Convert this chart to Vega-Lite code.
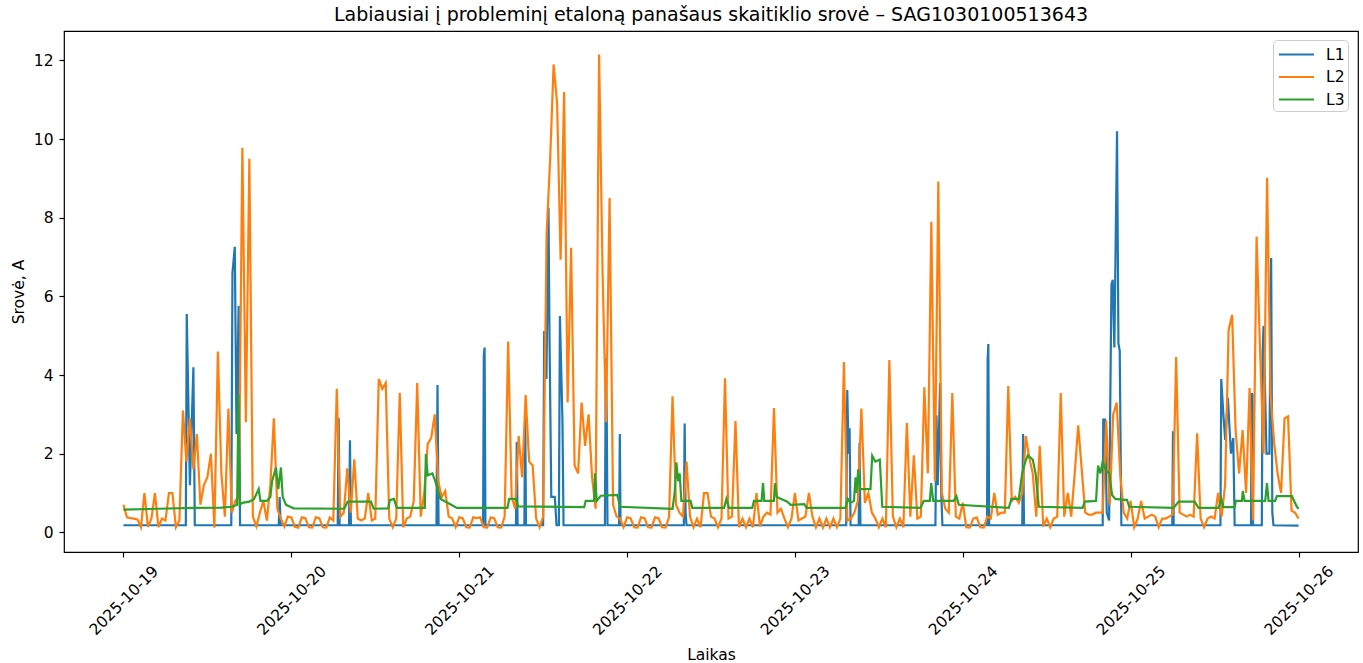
{
"$schema": "https://vega.github.io/schema/vega-lite/v6.json",
"width": 1294, "height": 521,
"autosize": {"type": "none"},
"padding": {"left": 64, "top": 31, "right": 5, "bottom": 111},
"background": "white",
"config": {
 "font": "DejaVu Sans",
 "view": {"stroke": "#000000", "strokeWidth": 1.2},
 "axis": {"grid": false, "domain": false, "tickColor": "#000000", "labelColor": "#000000", "titleColor": "#000000", "labelFont": "DejaVu Sans", "titleFont": "DejaVu Sans", "labelFontSize": 15.5, "titleFontSize": 15.5, "titleFontWeight": "normal", "tickSize": 5, "tickWidth": 1.2}
},
"title": {"text": "Labiausiai į probleminį etaloną panašaus skaitiklio srovė – SAG1030100513643", "font": "DejaVu Sans", "fontSize": 19, "fontWeight": "normal", "color": "#000000", "anchor": "middle", "offset": 6},
"data": {"values": [
{"s":"L1","t":"2025-10-19T00:00","v":0.18},{"s":"L1","t":"2025-10-19T08:55","v":0.18},{"s":"L1","t":"2025-10-19T09:03","v":5.55},{"s":"L1","t":"2025-10-19T09:30","v":1.2},{"s":"L1","t":"2025-10-19T10:00","v":4.2},{"s":"L1","t":"2025-10-19T10:12","v":0.18},{"s":"L1","t":"2025-10-19T15:25","v":0.18},{"s":"L1","t":"2025-10-19T15:35","v":6.6},{"s":"L1","t":"2025-10-19T15:55","v":7.26},{"s":"L1","t":"2025-10-19T16:10","v":2.5},{"s":"L1","t":"2025-10-19T16:28","v":5.76},{"s":"L1","t":"2025-10-19T16:40","v":0.18},{"s":"L1","t":"2025-10-19T22:12","v":0.18},{"s":"L1","t":"2025-10-19T22:20","v":0.9},{"s":"L1","t":"2025-10-19T22:28","v":0.18},
{"s":"L1","t":"2025-10-20T06:38","v":0.18},{"s":"L1","t":"2025-10-20T06:46","v":2.9},{"s":"L1","t":"2025-10-20T06:54","v":0.18},{"s":"L1","t":"2025-10-20T08:15","v":0.18},{"s":"L1","t":"2025-10-20T08:23","v":2.34},{"s":"L1","t":"2025-10-20T08:31","v":0.18},{"s":"L1","t":"2025-10-20T20:45","v":0.18},{"s":"L1","t":"2025-10-20T20:54","v":3.75},{"s":"L1","t":"2025-10-20T21:03","v":0.18},
{"s":"L1","t":"2025-10-21T03:25","v":0.18},{"s":"L1","t":"2025-10-21T03:31","v":4.5},{"s":"L1","t":"2025-10-21T03:38","v":4.7},{"s":"L1","t":"2025-10-21T03:45","v":0.18},{"s":"L1","t":"2025-10-21T08:07","v":0.18},{"s":"L1","t":"2025-10-21T08:14","v":2.3},{"s":"L1","t":"2025-10-21T08:21","v":0.18},{"s":"L1","t":"2025-10-21T09:19","v":0.18},{"s":"L1","t":"2025-10-21T09:26","v":3.13},{"s":"L1","t":"2025-10-21T09:33","v":0.18},{"s":"L1","t":"2025-10-21T12:00","v":0.18},{"s":"L1","t":"2025-10-21T12:09","v":5.12},{"s":"L1","t":"2025-10-21T12:28","v":3.9},{"s":"L1","t":"2025-10-21T12:46","v":8.25},{"s":"L1","t":"2025-10-21T12:55","v":4.9},{"s":"L1","t":"2025-10-21T13:10","v":0.9},{"s":"L1","t":"2025-10-21T13:40","v":0.9},{"s":"L1","t":"2025-10-21T13:55","v":0.18},{"s":"L1","t":"2025-10-21T14:15","v":0.18},{"s":"L1","t":"2025-10-21T14:24","v":5.5},{"s":"L1","t":"2025-10-21T14:46","v":2.8},{"s":"L1","t":"2025-10-21T14:55","v":0.18},{"s":"L1","t":"2025-10-21T20:50","v":0.18},{"s":"L1","t":"2025-10-21T20:58","v":4.43},{"s":"L1","t":"2025-10-21T21:06","v":2.8},{"s":"L1","t":"2025-10-21T21:12","v":0.18},{"s":"L1","t":"2025-10-21T22:52","v":0.18},{"s":"L1","t":"2025-10-21T22:58","v":2.5},{"s":"L1","t":"2025-10-21T23:04","v":0.18},
{"s":"L1","t":"2025-10-22T08:07","v":0.18},{"s":"L1","t":"2025-10-22T08:14","v":2.77},{"s":"L1","t":"2025-10-22T08:22","v":0.5},{"s":"L1","t":"2025-10-22T08:30","v":0.18},
{"s":"L1","t":"2025-10-23T07:20","v":0.18},{"s":"L1","t":"2025-10-23T07:29","v":3.62},{"s":"L1","t":"2025-10-23T07:40","v":2.0},{"s":"L1","t":"2025-10-23T07:49","v":2.65},{"s":"L1","t":"2025-10-23T07:57","v":0.18},{"s":"L1","t":"2025-10-23T09:07","v":0.18},{"s":"L1","t":"2025-10-23T09:14","v":2.27},{"s":"L1","t":"2025-10-23T09:22","v":0.18},{"s":"L1","t":"2025-10-23T20:05","v":0.18},{"s":"L1","t":"2025-10-23T20:14","v":2.98},{"s":"L1","t":"2025-10-23T20:25","v":1.2},{"s":"L1","t":"2025-10-23T20:45","v":3.8},{"s":"L1","t":"2025-10-23T20:55","v":1.0},{"s":"L1","t":"2025-10-23T21:05","v":0.18},
{"s":"L1","t":"2025-10-24T03:28","v":0.18},{"s":"L1","t":"2025-10-24T03:33","v":4.4},{"s":"L1","t":"2025-10-24T03:39","v":4.79},{"s":"L1","t":"2025-10-24T03:46","v":0.18},{"s":"L1","t":"2025-10-24T08:30","v":0.18},{"s":"L1","t":"2025-10-24T08:37","v":2.5},{"s":"L1","t":"2025-10-24T08:45","v":0.18},{"s":"L1","t":"2025-10-24T20:00","v":0.18},{"s":"L1","t":"2025-10-24T20:05","v":2.87},{"s":"L1","t":"2025-10-24T20:20","v":2.87},{"s":"L1","t":"2025-10-24T20:35","v":0.5},{"s":"L1","t":"2025-10-24T20:55","v":0.3},{"s":"L1","t":"2025-10-24T21:15","v":6.3},{"s":"L1","t":"2025-10-24T21:26","v":6.42},{"s":"L1","t":"2025-10-24T21:40","v":4.7},{"s":"L1","t":"2025-10-24T22:03","v":10.2},{"s":"L1","t":"2025-10-24T22:15","v":4.8},{"s":"L1","t":"2025-10-24T22:26","v":4.62},{"s":"L1","t":"2025-10-24T22:40","v":0.18},
{"s":"L1","t":"2025-10-25T05:57","v":0.18},{"s":"L1","t":"2025-10-25T06:03","v":2.57},{"s":"L1","t":"2025-10-25T06:09","v":0.18},{"s":"L1","t":"2025-10-25T12:50","v":0.18},{"s":"L1","t":"2025-10-25T12:57","v":3.9},{"s":"L1","t":"2025-10-25T13:15","v":3.0},{"s":"L1","t":"2025-10-25T13:31","v":2.35},{"s":"L1","t":"2025-10-25T13:54","v":3.42},{"s":"L1","t":"2025-10-25T14:20","v":2.0},{"s":"L1","t":"2025-10-25T14:40","v":2.4},{"s":"L1","t":"2025-10-25T14:52","v":0.18},{"s":"L1","t":"2025-10-25T17:12","v":0.18},{"s":"L1","t":"2025-10-25T17:18","v":3.54},{"s":"L1","t":"2025-10-25T17:25","v":3.5},{"s":"L1","t":"2025-10-25T17:30","v":0.18},{"s":"L1","t":"2025-10-25T18:45","v":0.18},{"s":"L1","t":"2025-10-25T18:52","v":4.6},{"s":"L1","t":"2025-10-25T19:00","v":5.25},{"s":"L1","t":"2025-10-25T19:25","v":2.0},{"s":"L1","t":"2025-10-25T19:50","v":2.0},{"s":"L1","t":"2025-10-25T20:05","v":6.98},{"s":"L1","t":"2025-10-25T20:15","v":0.5},{"s":"L1","t":"2025-10-25T20:25","v":0.18},{"s":"L1","t":"2025-10-26T00:00","v":0.17},

{"s":"L2","t":"2025-10-19T00:00","v":0.7},{"s":"L2","t":"2025-10-19T00:30","v":0.38},{"s":"L2","t":"2025-10-19T01:00","v":0.36},{"s":"L2","t":"2025-10-19T01:30","v":0.35},{"s":"L2","t":"2025-10-19T02:00","v":0.33},{"s":"L2","t":"2025-10-19T02:30","v":0.13},{"s":"L2","t":"2025-10-19T03:00","v":1.0},{"s":"L2","t":"2025-10-19T03:30","v":0.14},{"s":"L2","t":"2025-10-19T04:00","v":0.35},{"s":"L2","t":"2025-10-19T04:30","v":1.0},{"s":"L2","t":"2025-10-19T05:00","v":0.13},{"s":"L2","t":"2025-10-19T05:30","v":0.35},{"s":"L2","t":"2025-10-19T06:00","v":0.3},{"s":"L2","t":"2025-10-19T06:30","v":1.0},{"s":"L2","t":"2025-10-19T07:00","v":1.0},{"s":"L2","t":"2025-10-19T07:30","v":0.13},{"s":"L2","t":"2025-10-19T08:00","v":0.3},{"s":"L2","t":"2025-10-19T08:30","v":3.1},{"s":"L2","t":"2025-10-19T09:00","v":1.8},{"s":"L2","t":"2025-10-19T09:30","v":2.9},{"s":"L2","t":"2025-10-19T10:00","v":1.6},{"s":"L2","t":"2025-10-19T10:30","v":2.5},{"s":"L2","t":"2025-10-19T11:00","v":0.7},{"s":"L2","t":"2025-10-19T11:30","v":1.2},{"s":"L2","t":"2025-10-19T12:00","v":1.4},{"s":"L2","t":"2025-10-19T12:30","v":2.0},{"s":"L2","t":"2025-10-19T13:00","v":0.12},{"s":"L2","t":"2025-10-19T13:30","v":4.6},{"s":"L2","t":"2025-10-19T14:00","v":1.5},{"s":"L2","t":"2025-10-19T14:30","v":0.4},{"s":"L2","t":"2025-10-19T15:00","v":3.15},{"s":"L2","t":"2025-10-19T15:30","v":0.5},{"s":"L2","t":"2025-10-19T16:00","v":0.8},{"s":"L2","t":"2025-10-19T16:30","v":0.9},{"s":"L2","t":"2025-10-19T17:00","v":9.78},{"s":"L2","t":"2025-10-19T17:30","v":2.8},{"s":"L2","t":"2025-10-19T18:00","v":9.5},{"s":"L2","t":"2025-10-19T18:30","v":0.4},{"s":"L2","t":"2025-10-19T19:00","v":0.15},{"s":"L2","t":"2025-10-19T19:30","v":0.5},{"s":"L2","t":"2025-10-19T20:00","v":0.8},{"s":"L2","t":"2025-10-19T20:30","v":0.3},{"s":"L2","t":"2025-10-19T21:00","v":1.2},{"s":"L2","t":"2025-10-19T21:30","v":2.9},{"s":"L2","t":"2025-10-19T22:00","v":0.6},{"s":"L2","t":"2025-10-19T22:30","v":0.35},{"s":"L2","t":"2025-10-19T23:00","v":0.15},{"s":"L2","t":"2025-10-19T23:30","v":0.4},
{"s":"L2","t":"2025-10-20T00:00","v":0.38},{"s":"L2","t":"2025-10-20T00:30","v":0.14},{"s":"L2","t":"2025-10-20T01:00","v":0.12},{"s":"L2","t":"2025-10-20T01:30","v":0.38},{"s":"L2","t":"2025-10-20T02:00","v":0.36},{"s":"L2","t":"2025-10-20T02:30","v":0.13},{"s":"L2","t":"2025-10-20T03:00","v":0.12},{"s":"L2","t":"2025-10-20T03:30","v":0.38},{"s":"L2","t":"2025-10-20T04:00","v":0.36},{"s":"L2","t":"2025-10-20T04:30","v":0.13},{"s":"L2","t":"2025-10-20T05:00","v":0.12},{"s":"L2","t":"2025-10-20T05:30","v":0.38},{"s":"L2","t":"2025-10-20T06:00","v":0.3},{"s":"L2","t":"2025-10-20T06:30","v":3.65},{"s":"L2","t":"2025-10-20T07:00","v":0.4},{"s":"L2","t":"2025-10-20T07:30","v":0.5},{"s":"L2","t":"2025-10-20T08:00","v":1.63},{"s":"L2","t":"2025-10-20T08:30","v":0.5},{"s":"L2","t":"2025-10-20T09:00","v":1.86},{"s":"L2","t":"2025-10-20T09:30","v":0.35},{"s":"L2","t":"2025-10-20T10:00","v":0.3},{"s":"L2","t":"2025-10-20T10:30","v":0.35},{"s":"L2","t":"2025-10-20T11:00","v":1.0},{"s":"L2","t":"2025-10-20T11:30","v":0.3},{"s":"L2","t":"2025-10-20T12:00","v":0.35},{"s":"L2","t":"2025-10-20T12:30","v":3.9},{"s":"L2","t":"2025-10-20T13:00","v":3.65},{"s":"L2","t":"2025-10-20T13:30","v":3.8},{"s":"L2","t":"2025-10-20T14:00","v":0.35},{"s":"L2","t":"2025-10-20T14:30","v":0.13},{"s":"L2","t":"2025-10-20T15:00","v":0.35},{"s":"L2","t":"2025-10-20T15:30","v":3.55},{"s":"L2","t":"2025-10-20T16:00","v":0.13},{"s":"L2","t":"2025-10-20T16:30","v":0.35},{"s":"L2","t":"2025-10-20T17:00","v":0.4},{"s":"L2","t":"2025-10-20T17:30","v":0.8},{"s":"L2","t":"2025-10-20T18:00","v":3.8},{"s":"L2","t":"2025-10-20T18:30","v":0.4},{"s":"L2","t":"2025-10-20T19:00","v":1.0},{"s":"L2","t":"2025-10-20T19:30","v":2.25},{"s":"L2","t":"2025-10-20T20:00","v":2.4},{"s":"L2","t":"2025-10-20T20:30","v":3.0},{"s":"L2","t":"2025-10-20T21:00","v":1.3},{"s":"L2","t":"2025-10-20T21:30","v":0.9},{"s":"L2","t":"2025-10-20T22:00","v":1.05},{"s":"L2","t":"2025-10-20T22:30","v":0.4},{"s":"L2","t":"2025-10-20T23:00","v":0.35},{"s":"L2","t":"2025-10-20T23:30","v":0.13},
{"s":"L2","t":"2025-10-21T00:00","v":0.38},{"s":"L2","t":"2025-10-21T00:30","v":0.36},{"s":"L2","t":"2025-10-21T01:00","v":0.13},{"s":"L2","t":"2025-10-21T01:30","v":0.12},{"s":"L2","t":"2025-10-21T02:00","v":0.38},{"s":"L2","t":"2025-10-21T02:30","v":0.36},{"s":"L2","t":"2025-10-21T03:00","v":0.38},{"s":"L2","t":"2025-10-21T03:30","v":0.13},{"s":"L2","t":"2025-10-21T04:00","v":0.12},{"s":"L2","t":"2025-10-21T04:30","v":0.38},{"s":"L2","t":"2025-10-21T05:00","v":0.36},{"s":"L2","t":"2025-10-21T05:30","v":0.13},{"s":"L2","t":"2025-10-21T06:00","v":0.12},{"s":"L2","t":"2025-10-21T06:30","v":0.4},{"s":"L2","t":"2025-10-21T07:00","v":4.85},{"s":"L2","t":"2025-10-21T07:30","v":0.9},{"s":"L2","t":"2025-10-21T08:00","v":0.6},{"s":"L2","t":"2025-10-21T08:30","v":2.45},{"s":"L2","t":"2025-10-21T09:00","v":1.4},{"s":"L2","t":"2025-10-21T09:30","v":3.49},{"s":"L2","t":"2025-10-21T10:00","v":1.8},{"s":"L2","t":"2025-10-21T10:30","v":1.7},{"s":"L2","t":"2025-10-21T11:00","v":0.35},{"s":"L2","t":"2025-10-21T11:30","v":0.13},{"s":"L2","t":"2025-10-21T12:00","v":0.4},{"s":"L2","t":"2025-10-21T12:30","v":7.6},{"s":"L2","t":"2025-10-21T13:00","v":9.48},{"s":"L2","t":"2025-10-21T13:30","v":11.9},{"s":"L2","t":"2025-10-21T14:00","v":10.9},{"s":"L2","t":"2025-10-21T14:30","v":6.93},{"s":"L2","t":"2025-10-21T15:00","v":11.2},{"s":"L2","t":"2025-10-21T15:30","v":3.3},{"s":"L2","t":"2025-10-21T16:00","v":7.24},{"s":"L2","t":"2025-10-21T16:30","v":1.7},{"s":"L2","t":"2025-10-21T17:00","v":1.5},{"s":"L2","t":"2025-10-21T17:30","v":3.3},{"s":"L2","t":"2025-10-21T18:00","v":2.2},{"s":"L2","t":"2025-10-21T18:30","v":3.0},{"s":"L2","t":"2025-10-21T19:00","v":1.4},{"s":"L2","t":"2025-10-21T19:30","v":0.6},{"s":"L2","t":"2025-10-21T20:00","v":12.15},{"s":"L2","t":"2025-10-21T20:30","v":6.6},{"s":"L2","t":"2025-10-21T21:00","v":2.8},{"s":"L2","t":"2025-10-21T21:30","v":8.5},{"s":"L2","t":"2025-10-21T22:00","v":0.7},{"s":"L2","t":"2025-10-21T22:30","v":0.4},{"s":"L2","t":"2025-10-21T23:00","v":0.35},{"s":"L2","t":"2025-10-21T23:30","v":0.13},
{"s":"L2","t":"2025-10-22T00:00","v":0.38},{"s":"L2","t":"2025-10-22T00:30","v":0.36},{"s":"L2","t":"2025-10-22T01:00","v":0.13},{"s":"L2","t":"2025-10-22T01:30","v":0.12},{"s":"L2","t":"2025-10-22T02:00","v":0.38},{"s":"L2","t":"2025-10-22T02:30","v":0.36},{"s":"L2","t":"2025-10-22T03:00","v":0.13},{"s":"L2","t":"2025-10-22T03:30","v":0.12},{"s":"L2","t":"2025-10-22T04:00","v":0.38},{"s":"L2","t":"2025-10-22T04:30","v":0.36},{"s":"L2","t":"2025-10-22T05:00","v":0.13},{"s":"L2","t":"2025-10-22T05:30","v":0.12},{"s":"L2","t":"2025-10-22T06:00","v":0.38},{"s":"L2","t":"2025-10-22T06:30","v":3.46},{"s":"L2","t":"2025-10-22T07:00","v":0.7},{"s":"L2","t":"2025-10-22T07:30","v":0.5},{"s":"L2","t":"2025-10-22T08:00","v":0.4},{"s":"L2","t":"2025-10-22T08:30","v":1.8},{"s":"L2","t":"2025-10-22T09:00","v":0.4},{"s":"L2","t":"2025-10-22T09:30","v":0.13},{"s":"L2","t":"2025-10-22T10:00","v":0.35},{"s":"L2","t":"2025-10-22T10:30","v":0.13},{"s":"L2","t":"2025-10-22T11:00","v":1.0},{"s":"L2","t":"2025-10-22T11:30","v":1.0},{"s":"L2","t":"2025-10-22T12:00","v":0.4},{"s":"L2","t":"2025-10-22T12:30","v":0.35},{"s":"L2","t":"2025-10-22T13:00","v":0.13},{"s":"L2","t":"2025-10-22T13:30","v":0.35},{"s":"L2","t":"2025-10-22T14:00","v":3.92},{"s":"L2","t":"2025-10-22T14:30","v":0.35},{"s":"L2","t":"2025-10-22T15:00","v":0.4},{"s":"L2","t":"2025-10-22T15:30","v":2.83},{"s":"L2","t":"2025-10-22T16:00","v":0.13},{"s":"L2","t":"2025-10-22T16:30","v":0.35},{"s":"L2","t":"2025-10-22T17:00","v":0.13},{"s":"L2","t":"2025-10-22T17:30","v":0.35},{"s":"L2","t":"2025-10-22T18:00","v":0.13},{"s":"L2","t":"2025-10-22T18:30","v":1.0},{"s":"L2","t":"2025-10-22T19:00","v":0.15},{"s":"L2","t":"2025-10-22T19:30","v":0.4},{"s":"L2","t":"2025-10-22T20:00","v":0.5},{"s":"L2","t":"2025-10-22T20:30","v":0.45},{"s":"L2","t":"2025-10-22T21:00","v":3.16},{"s":"L2","t":"2025-10-22T21:30","v":0.5},{"s":"L2","t":"2025-10-22T22:00","v":0.6},{"s":"L2","t":"2025-10-22T22:30","v":0.35},{"s":"L2","t":"2025-10-22T23:00","v":0.13},{"s":"L2","t":"2025-10-22T23:30","v":0.35},
{"s":"L2","t":"2025-10-23T00:00","v":1.0},{"s":"L2","t":"2025-10-23T00:30","v":0.3},{"s":"L2","t":"2025-10-23T01:00","v":0.35},{"s":"L2","t":"2025-10-23T01:30","v":0.4},{"s":"L2","t":"2025-10-23T02:00","v":1.0},{"s":"L2","t":"2025-10-23T02:30","v":0.4},{"s":"L2","t":"2025-10-23T03:00","v":0.13},{"s":"L2","t":"2025-10-23T03:30","v":0.35},{"s":"L2","t":"2025-10-23T04:00","v":0.12},{"s":"L2","t":"2025-10-23T04:30","v":0.35},{"s":"L2","t":"2025-10-23T05:00","v":0.13},{"s":"L2","t":"2025-10-23T05:30","v":0.35},{"s":"L2","t":"2025-10-23T06:00","v":0.13},{"s":"L2","t":"2025-10-23T06:30","v":0.35},{"s":"L2","t":"2025-10-23T07:00","v":4.33},{"s":"L2","t":"2025-10-23T07:30","v":0.3},{"s":"L2","t":"2025-10-23T08:00","v":0.35},{"s":"L2","t":"2025-10-23T08:30","v":0.5},{"s":"L2","t":"2025-10-23T09:00","v":0.8},{"s":"L2","t":"2025-10-23T09:30","v":3.15},{"s":"L2","t":"2025-10-23T10:00","v":0.75},{"s":"L2","t":"2025-10-23T10:30","v":1.0},{"s":"L2","t":"2025-10-23T11:00","v":0.5},{"s":"L2","t":"2025-10-23T11:30","v":0.35},{"s":"L2","t":"2025-10-23T12:00","v":0.13},{"s":"L2","t":"2025-10-23T12:30","v":0.35},{"s":"L2","t":"2025-10-23T13:00","v":0.13},{"s":"L2","t":"2025-10-23T13:30","v":4.38},{"s":"L2","t":"2025-10-23T14:00","v":0.4},{"s":"L2","t":"2025-10-23T14:30","v":0.13},{"s":"L2","t":"2025-10-23T15:00","v":0.35},{"s":"L2","t":"2025-10-23T15:30","v":0.13},{"s":"L2","t":"2025-10-23T16:00","v":2.78},{"s":"L2","t":"2025-10-23T16:30","v":0.4},{"s":"L2","t":"2025-10-23T17:00","v":1.96},{"s":"L2","t":"2025-10-23T17:30","v":0.35},{"s":"L2","t":"2025-10-23T18:00","v":0.4},{"s":"L2","t":"2025-10-23T18:30","v":3.69},{"s":"L2","t":"2025-10-23T19:00","v":1.5},{"s":"L2","t":"2025-10-23T19:30","v":7.9},{"s":"L2","t":"2025-10-23T20:00","v":1.3},{"s":"L2","t":"2025-10-23T20:30","v":8.92},{"s":"L2","t":"2025-10-23T21:00","v":1.0},{"s":"L2","t":"2025-10-23T21:30","v":0.6},{"s":"L2","t":"2025-10-23T22:00","v":0.5},{"s":"L2","t":"2025-10-23T22:30","v":3.54},{"s":"L2","t":"2025-10-23T23:00","v":0.4},{"s":"L2","t":"2025-10-23T23:30","v":0.35},
{"s":"L2","t":"2025-10-24T00:00","v":0.75},{"s":"L2","t":"2025-10-24T00:30","v":0.13},{"s":"L2","t":"2025-10-24T01:00","v":0.12},{"s":"L2","t":"2025-10-24T01:30","v":0.35},{"s":"L2","t":"2025-10-24T02:00","v":0.38},{"s":"L2","t":"2025-10-24T02:30","v":0.13},{"s":"L2","t":"2025-10-24T03:00","v":0.12},{"s":"L2","t":"2025-10-24T03:30","v":0.4},{"s":"L2","t":"2025-10-24T04:00","v":0.35},{"s":"L2","t":"2025-10-24T04:30","v":1.0},{"s":"L2","t":"2025-10-24T05:00","v":0.45},{"s":"L2","t":"2025-10-24T05:30","v":0.5},{"s":"L2","t":"2025-10-24T06:00","v":0.5},{"s":"L2","t":"2025-10-24T06:30","v":3.72},{"s":"L2","t":"2025-10-24T07:00","v":0.8},{"s":"L2","t":"2025-10-24T07:30","v":0.9},{"s":"L2","t":"2025-10-24T08:00","v":0.75},{"s":"L2","t":"2025-10-24T08:30","v":1.0},{"s":"L2","t":"2025-10-24T09:00","v":2.45},{"s":"L2","t":"2025-10-24T09:30","v":1.9},{"s":"L2","t":"2025-10-24T10:00","v":1.5},{"s":"L2","t":"2025-10-24T10:30","v":0.4},{"s":"L2","t":"2025-10-24T11:00","v":2.2},{"s":"L2","t":"2025-10-24T11:30","v":0.15},{"s":"L2","t":"2025-10-24T12:00","v":0.35},{"s":"L2","t":"2025-10-24T12:30","v":0.13},{"s":"L2","t":"2025-10-24T13:00","v":0.35},{"s":"L2","t":"2025-10-24T13:30","v":0.4},{"s":"L2","t":"2025-10-24T14:00","v":3.54},{"s":"L2","t":"2025-10-24T14:30","v":0.4},{"s":"L2","t":"2025-10-24T15:00","v":1.0},{"s":"L2","t":"2025-10-24T15:30","v":0.4},{"s":"L2","t":"2025-10-24T16:00","v":1.5},{"s":"L2","t":"2025-10-24T16:30","v":2.72},{"s":"L2","t":"2025-10-24T17:00","v":1.6},{"s":"L2","t":"2025-10-24T17:30","v":0.5},{"s":"L2","t":"2025-10-24T18:00","v":0.45},{"s":"L2","t":"2025-10-24T18:30","v":0.45},{"s":"L2","t":"2025-10-24T19:00","v":0.5},{"s":"L2","t":"2025-10-24T19:30","v":0.5},{"s":"L2","t":"2025-10-24T20:00","v":0.5},{"s":"L2","t":"2025-10-24T20:30","v":2.85},{"s":"L2","t":"2025-10-24T21:00","v":0.7},{"s":"L2","t":"2025-10-24T21:30","v":3.0},{"s":"L2","t":"2025-10-24T22:00","v":3.3},{"s":"L2","t":"2025-10-24T22:30","v":1.5},{"s":"L2","t":"2025-10-24T23:00","v":0.5},{"s":"L2","t":"2025-10-24T23:30","v":0.35},
{"s":"L2","t":"2025-10-25T00:00","v":0.8},{"s":"L2","t":"2025-10-25T00:30","v":0.13},{"s":"L2","t":"2025-10-25T01:00","v":0.35},{"s":"L2","t":"2025-10-25T01:30","v":0.8},{"s":"L2","t":"2025-10-25T02:00","v":0.35},{"s":"L2","t":"2025-10-25T02:30","v":0.4},{"s":"L2","t":"2025-10-25T03:00","v":0.45},{"s":"L2","t":"2025-10-25T03:30","v":0.4},{"s":"L2","t":"2025-10-25T04:00","v":0.13},{"s":"L2","t":"2025-10-25T04:30","v":0.35},{"s":"L2","t":"2025-10-25T05:00","v":0.35},{"s":"L2","t":"2025-10-25T05:30","v":0.4},{"s":"L2","t":"2025-10-25T06:00","v":0.45},{"s":"L2","t":"2025-10-25T06:30","v":4.46},{"s":"L2","t":"2025-10-25T07:00","v":0.5},{"s":"L2","t":"2025-10-25T07:30","v":0.45},{"s":"L2","t":"2025-10-25T08:00","v":0.4},{"s":"L2","t":"2025-10-25T08:30","v":0.45},{"s":"L2","t":"2025-10-25T09:00","v":0.4},{"s":"L2","t":"2025-10-25T09:30","v":2.52},{"s":"L2","t":"2025-10-25T10:00","v":0.35},{"s":"L2","t":"2025-10-25T10:30","v":0.13},{"s":"L2","t":"2025-10-25T11:00","v":0.35},{"s":"L2","t":"2025-10-25T11:30","v":0.4},{"s":"L2","t":"2025-10-25T12:00","v":0.35},{"s":"L2","t":"2025-10-25T12:30","v":1.0},{"s":"L2","t":"2025-10-25T13:00","v":0.4},{"s":"L2","t":"2025-10-25T13:30","v":1.2},{"s":"L2","t":"2025-10-25T14:00","v":5.14},{"s":"L2","t":"2025-10-25T14:30","v":5.53},{"s":"L2","t":"2025-10-25T15:00","v":2.6},{"s":"L2","t":"2025-10-25T15:30","v":1.5},{"s":"L2","t":"2025-10-25T16:00","v":2.6},{"s":"L2","t":"2025-10-25T16:30","v":1.0},{"s":"L2","t":"2025-10-25T17:00","v":3.67},{"s":"L2","t":"2025-10-25T17:30","v":0.3},{"s":"L2","t":"2025-10-25T18:00","v":7.52},{"s":"L2","t":"2025-10-25T18:30","v":4.62},{"s":"L2","t":"2025-10-25T19:00","v":2.0},{"s":"L2","t":"2025-10-25T19:30","v":9.02},{"s":"L2","t":"2025-10-25T20:00","v":3.5},{"s":"L2","t":"2025-10-25T20:30","v":2.3},{"s":"L2","t":"2025-10-25T21:00","v":1.5},{"s":"L2","t":"2025-10-25T21:30","v":1.0},{"s":"L2","t":"2025-10-25T22:00","v":2.9},{"s":"L2","t":"2025-10-25T22:30","v":2.95},{"s":"L2","t":"2025-10-25T23:00","v":0.55},{"s":"L2","t":"2025-10-25T23:30","v":0.5},{"s":"L2","t":"2025-10-26T00:00","v":0.35},

{"s":"L3","t":"2025-10-19T00:00","v":0.58},{"s":"L3","t":"2025-10-19T05:00","v":0.6},{"s":"L3","t":"2025-10-19T10:00","v":0.62},{"s":"L3","t":"2025-10-19T14:00","v":0.63},{"s":"L3","t":"2025-10-19T15:30","v":0.65},{"s":"L3","t":"2025-10-19T16:15","v":0.7},{"s":"L3","t":"2025-10-19T16:27","v":3.5},{"s":"L3","t":"2025-10-19T16:38","v":0.7},{"s":"L3","t":"2025-10-19T17:00","v":0.75},{"s":"L3","t":"2025-10-19T18:00","v":0.78},{"s":"L3","t":"2025-10-19T18:40","v":0.85},{"s":"L3","t":"2025-10-19T19:20","v":1.1},{"s":"L3","t":"2025-10-19T19:35","v":0.8},{"s":"L3","t":"2025-10-19T20:30","v":0.8},{"s":"L3","t":"2025-10-19T21:00","v":0.9},{"s":"L3","t":"2025-10-19T21:15","v":1.3},{"s":"L3","t":"2025-10-19T21:48","v":1.65},{"s":"L3","t":"2025-10-19T22:08","v":1.1},{"s":"L3","t":"2025-10-19T22:31","v":1.65},{"s":"L3","t":"2025-10-19T22:46","v":0.9},{"s":"L3","t":"2025-10-19T23:15","v":0.7},{"s":"L3","t":"2025-10-19T23:50","v":0.65},
{"s":"L3","t":"2025-10-20T00:20","v":0.61},{"s":"L3","t":"2025-10-20T07:34","v":0.6},{"s":"L3","t":"2025-10-20T08:03","v":0.78},{"s":"L3","t":"2025-10-20T11:23","v":0.78},{"s":"L3","t":"2025-10-20T11:46","v":0.6},{"s":"L3","t":"2025-10-20T13:50","v":0.61},{"s":"L3","t":"2025-10-20T14:05","v":0.82},{"s":"L3","t":"2025-10-20T14:40","v":0.85},{"s":"L3","t":"2025-10-20T15:05","v":0.62},{"s":"L3","t":"2025-10-20T19:05","v":0.62},{"s":"L3","t":"2025-10-20T19:14","v":1.99},{"s":"L3","t":"2025-10-20T19:30","v":1.45},{"s":"L3","t":"2025-10-20T20:10","v":1.5},{"s":"L3","t":"2025-10-20T20:35","v":1.3},{"s":"L3","t":"2025-10-20T21:20","v":0.85},{"s":"L3","t":"2025-10-20T22:40","v":0.72},{"s":"L3","t":"2025-10-20T23:40","v":0.62},
{"s":"L3","t":"2025-10-21T06:54","v":0.62},{"s":"L3","t":"2025-10-21T07:09","v":0.85},{"s":"L3","t":"2025-10-21T08:06","v":0.85},{"s":"L3","t":"2025-10-21T08:25","v":0.66},{"s":"L3","t":"2025-10-21T17:52","v":0.64},{"s":"L3","t":"2025-10-21T18:05","v":0.8},{"s":"L3","t":"2025-10-21T19:17","v":0.8},{"s":"L3","t":"2025-10-21T19:24","v":1.5},{"s":"L3","t":"2025-10-21T19:40","v":0.8},{"s":"L3","t":"2025-10-21T20:14","v":0.93},{"s":"L3","t":"2025-10-21T22:36","v":0.95},{"s":"L3","t":"2025-10-21T23:00","v":0.65},
{"s":"L3","t":"2025-10-22T06:30","v":0.6},{"s":"L3","t":"2025-10-22T06:48","v":1.0},{"s":"L3","t":"2025-10-22T07:03","v":1.78},{"s":"L3","t":"2025-10-22T07:18","v":1.3},{"s":"L3","t":"2025-10-22T07:31","v":1.5},{"s":"L3","t":"2025-10-22T07:46","v":0.8},{"s":"L3","t":"2025-10-22T09:05","v":0.8},{"s":"L3","t":"2025-10-22T09:20","v":0.62},{"s":"L3","t":"2025-10-22T13:52","v":0.62},{"s":"L3","t":"2025-10-22T14:12","v":0.85},{"s":"L3","t":"2025-10-22T14:34","v":0.62},{"s":"L3","t":"2025-10-22T17:54","v":0.62},{"s":"L3","t":"2025-10-22T18:08","v":0.8},{"s":"L3","t":"2025-10-22T19:14","v":0.8},{"s":"L3","t":"2025-10-22T19:26","v":1.25},{"s":"L3","t":"2025-10-22T19:37","v":0.8},{"s":"L3","t":"2025-10-22T21:00","v":0.8},{"s":"L3","t":"2025-10-22T21:08","v":1.25},{"s":"L3","t":"2025-10-22T21:24","v":0.9},{"s":"L3","t":"2025-10-22T22:54","v":0.78},{"s":"L3","t":"2025-10-22T23:24","v":0.7},
{"s":"L3","t":"2025-10-23T01:20","v":0.72},{"s":"L3","t":"2025-10-23T01:40","v":0.62},{"s":"L3","t":"2025-10-23T07:14","v":0.62},{"s":"L3","t":"2025-10-23T07:34","v":0.85},{"s":"L3","t":"2025-10-23T07:57","v":0.75},{"s":"L3","t":"2025-10-23T08:26","v":0.8},{"s":"L3","t":"2025-10-23T08:40","v":1.4},{"s":"L3","t":"2025-10-23T08:48","v":1.0},{"s":"L3","t":"2025-10-23T09:03","v":1.6},{"s":"L3","t":"2025-10-23T09:18","v":1.1},{"s":"L3","t":"2025-10-23T10:48","v":1.1},{"s":"L3","t":"2025-10-23T11:03","v":1.95},{"s":"L3","t":"2025-10-23T11:30","v":1.8},{"s":"L3","t":"2025-10-23T12:08","v":1.85},{"s":"L3","t":"2025-10-23T12:29","v":0.65},{"s":"L3","t":"2025-10-23T17:57","v":0.62},{"s":"L3","t":"2025-10-23T18:26","v":0.8},{"s":"L3","t":"2025-10-23T19:17","v":0.8},{"s":"L3","t":"2025-10-23T19:29","v":1.25},{"s":"L3","t":"2025-10-23T19:46","v":0.8},{"s":"L3","t":"2025-10-23T22:42","v":0.8},{"s":"L3","t":"2025-10-23T23:05","v":0.92},{"s":"L3","t":"2025-10-23T23:26","v":0.7},
{"s":"L3","t":"2025-10-24T06:34","v":0.62},{"s":"L3","t":"2025-10-24T06:57","v":0.85},{"s":"L3","t":"2025-10-24T08:00","v":0.85},{"s":"L3","t":"2025-10-24T08:29","v":1.5},{"s":"L3","t":"2025-10-24T08:57","v":1.8},{"s":"L3","t":"2025-10-24T09:17","v":1.96},{"s":"L3","t":"2025-10-24T10:00","v":1.85},{"s":"L3","t":"2025-10-24T10:24","v":1.5},{"s":"L3","t":"2025-10-24T10:52","v":0.65},{"s":"L3","t":"2025-10-24T17:08","v":0.62},{"s":"L3","t":"2025-10-24T17:26","v":0.78},{"s":"L3","t":"2025-10-24T19:03","v":0.8},{"s":"L3","t":"2025-10-24T19:20","v":1.7},{"s":"L3","t":"2025-10-24T19:40","v":1.5},{"s":"L3","t":"2025-10-24T20:00","v":1.8},{"s":"L3","t":"2025-10-24T20:23","v":1.6},{"s":"L3","t":"2025-10-24T20:57","v":1.5},{"s":"L3","t":"2025-10-24T21:20","v":0.95},{"s":"L3","t":"2025-10-24T21:48","v":0.85},{"s":"L3","t":"2025-10-24T23:29","v":0.82},{"s":"L3","t":"2025-10-24T23:48","v":0.65},
{"s":"L3","t":"2025-10-25T06:08","v":0.62},{"s":"L3","t":"2025-10-25T06:52","v":0.78},{"s":"L3","t":"2025-10-25T09:08","v":0.78},{"s":"L3","t":"2025-10-25T09:42","v":0.62},{"s":"L3","t":"2025-10-25T12:34","v":0.62},{"s":"L3","t":"2025-10-25T12:57","v":0.85},{"s":"L3","t":"2025-10-25T13:17","v":0.64},{"s":"L3","t":"2025-10-25T14:52","v":0.64},{"s":"L3","t":"2025-10-25T15:03","v":0.8},{"s":"L3","t":"2025-10-25T15:54","v":0.8},{"s":"L3","t":"2025-10-25T16:02","v":1.05},{"s":"L3","t":"2025-10-25T16:17","v":0.8},{"s":"L3","t":"2025-10-25T19:14","v":0.8},{"s":"L3","t":"2025-10-25T19:29","v":1.25},{"s":"L3","t":"2025-10-25T19:43","v":0.8},{"s":"L3","t":"2025-10-25T20:40","v":0.8},{"s":"L3","t":"2025-10-25T20:54","v":0.92},{"s":"L3","t":"2025-10-25T23:03","v":0.92},{"s":"L3","t":"2025-10-25T23:46","v":0.65},{"s":"L3","t":"2025-10-26T00:00","v":0.6}
]},
"mark": {"type": "line", "strokeWidth": 2.2, "interpolate": "linear", "clip": true},
"encoding": {
 "x": {"field": "t", "type": "temporal",
  "scale": {"domain": [{"year": 2025, "month": 10, "date": 18, "hours": 15, "minutes": 30}, {"year": 2025, "month": 10, "date": 26, "hours": 8, "minutes": 30}]},
  "axis": {"title": "Laikas", "format": "%Y-%m-%d", "tickCount": {"interval": "day", "step": 1}, "labelAngle": -45, "labelAlign": "center", "labelBaseline": "middle", "labelPadding": 43, "titleBaseline": "alphabetic", "titleY": 107}},
 "y": {"field": "v", "type": "quantitative",
  "scale": {"domain": [-0.5, 12.75], "nice": false, "zero": false},
  "axis": {"title": "Srovė, A", "values": [0, 2, 4, 6, 8, 10, 12], "labelPadding": 6, "titleBaseline": "alphabetic", "titleX": -41}},
 "color": {"field": "s", "type": "nominal",
  "scale": {"domain": ["L1", "L2", "L3"], "range": ["#1f77b4", "#ff7f0e", "#2ca02c"]},
  "legend": {"title": " ", "titleOrient": "left", "titleFontSize": 1, "titlePadding": 9, "orient": "none", "legendX": 1209, "legendY": 9, "symbolType": "M-1.75,0H1.75", "symbolSize": 400, "symbolStrokeWidth": 2.2, "labelFontSize": 15.5, "labelFont": "DejaVu Sans", "labelColor": "#000000", "labelOffset": 18, "rowPadding": 2.5, "padding": 3, "fillColor": "white", "strokeColor": "#cccccc", "cornerRadius": 4}}
}
}
